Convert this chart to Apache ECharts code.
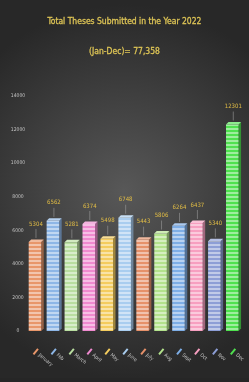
<!DOCTYPE html>
<html><head><meta charset="utf-8">
<script src="https://cdn.jsdelivr.net/npm/echarts@6/dist/echarts.min.js"></script>
<style>html,body{margin:0;padding:0;background:#3a3a3a}#c{width:249px;height:382px}</style>
</head><body><div id="c"></div>
<script>
const titleLine1 = 'Total Theses Submitted in the Year 2022';
const titleLine2 = '(Jan-Dec)= 77,358';
const months = ['January','Feb','March','April','May','June','July','Aug','Sept','Oct','Nov','Dec'];
const theses = [5304, 6562, 5281, 6374, 5498, 6748, 5443, 5806, 6264, 6437, 5340, 12301];
const barColors = ['#e8966a','#8db6e6','#b9dea0','#f08ad0','#f4cc5e','#a9cdef','#e6916a','#b3e28c','#7eaee6','#f79fc0','#8d9ed6','#4fe14f'];
const FONT = "'DejaVu Sans Condensed', 'Liberation Sans Narrow', Roboto, sans-serif";

function shade(hex, f){
  const n = parseInt(hex.slice(1),16);
  let r=(n>>16)&255,g=(n>>8)&255,b=n&255;
  const m = v => Math.max(0,Math.min(255,Math.round(f<0? v*(1+f) : v+(255-v)*f)));
  return 'rgb('+m(r)+','+m(g)+','+m(b)+')';
}
function stripe(hex){
  const cv = document.createElement('canvas'); cv.width=4; cv.height=4;
  const ctx = cv.getContext('2d');
  ctx.fillStyle = hex; ctx.fillRect(0,0,4,4);
  ctx.fillStyle = 'rgba(255,255,255,0.45)'; ctx.fillRect(0,0,4,2);
  return {image:cv, repeat:'repeat'};
}

const chart = echarts.init(document.getElementById('c'), null, {renderer:'canvas'});
const rich = {t:{color:'#c4c4c4', fontSize:5, fontFamily:FONT}};
barColors.forEach((c,i)=>{ rich['m'+i] = {backgroundColor:c, width:2, height:7}; });

chart.setOption({
  backgroundColor: {type:'radial', x:0.5, y:0.5, r:0.75, colorStops:[{offset:0,color:'#585858'},{offset:1,color:'#282828'}]},
  graphic: [{type:'rect', left:0, bottom:0, shape:{width:249, height:4}, style:{fill:'#262626'}, silent:true}],
  title: {
    text: titleLine1 + '\n' + titleLine2,
    left: 'center', top: 2,
    textStyle: {color:'#dcc355', fontSize:8.5, fontWeight:'normal', fontFamily:FONT, lineHeight:30, textBorderColor:'#dcc355', textBorderWidth:0.3}
  },
  grid: {left:26, right:3, top:96, bottom:51},
  xAxis: {
    type:'category', data: months,
    axisLine:{show:false}, axisTick:{show:false},
    axisLabel:{
      interval:0, margin:20, rotate:-40, rich: rich,
      formatter: (v, i) => '{m'+i+'|} {t|' + v + '}'
    }
  },
  yAxis: {
    type:'value', min:0, max:14000, interval:2000,
    splitLine:{show:false}, axisLine:{show:false}, axisTick:{show:false},
    axisLabel:{color:'#c4c4c4', fontSize:5, margin:8, fontFamily:FONT, align:'center', formatter: v => String(v)}
  },
  series: [{
    type:'custom',
    data: theses.map((v,i)=>[i,v]),
    renderItem: function(params, api){
      const i = api.value(0);
      const top = api.coord([i, api.value(1)]);
      const base = api.coord([i, 0]);
      const bw = api.size([1,0])[0]*0.7;
      const x0 = top[0]-bw/2, x1 = top[0]+bw/2;
      const dx = 2.5, dy = -2.5;
      const c = barColors[i];
      return {type:'group', children:[
        {type:'polygon', shape:{points:[[x1,top[1]],[x1+dx,top[1]+dy],[x1+dx,base[1]+dy],[x1,base[1]]]}, style:{fill:shade(c,-0.35)}},
        {type:'polygon', shape:{points:[[x0,top[1]],[x0+dx,top[1]+dy],[x1+dx,top[1]+dy],[x1,top[1]]]}, style:{fill:shade(c,0.35)}},
        {type:'rect', shape:{x:x0, y:top[1], width:bw, height:base[1]-top[1]}, style:{fill:stripe(c)}},
        {type:'line', shape:{x1:top[0]+1, y1:top[1]-4, x2:top[0]+1, y2:top[1]-13}, style:{stroke:'#9a9a9a', lineWidth:0.6}},
        {type:'text', style:{text:String(api.value(1)), x:top[0]+1, y:top[1]-15, align:'center', verticalAlign:'bottom', fill:'#e2bd45', fontSize:6, fontFamily:FONT}}
      ]};
    }
  }]
});
</script></body></html>
